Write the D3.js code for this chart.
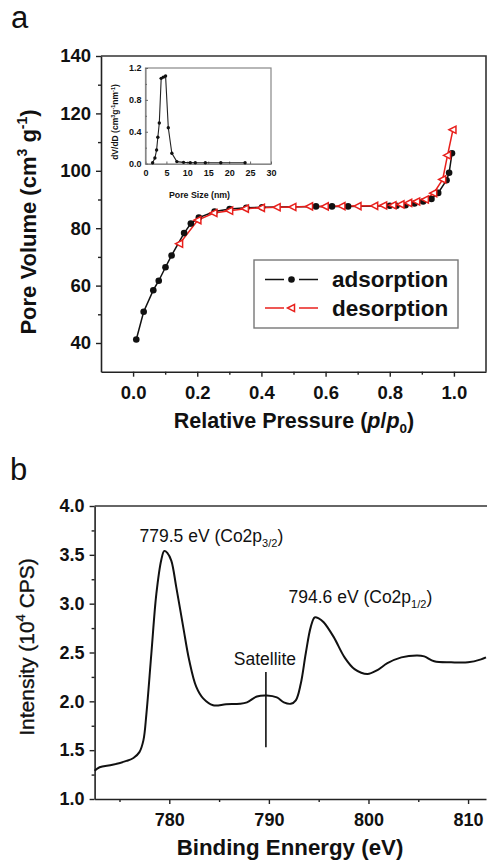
<!DOCTYPE html>
<html>
<head>
<meta charset="utf-8">
<script src="https://cdn.jsdelivr.net/npm/d3@7"></script>
<style>
  html, body { margin: 0; padding: 0; background: #fff; }
  svg { display: block; }
  text { font-family: "Liberation Sans", Arial, Helvetica, sans-serif; fill: #111; }
</style>
</head>
<body>
<svg id="fig" width="487" height="860"></svg>
<script>
// ---- Panel a: N2 adsorption / desorption isotherm ----
const adsP = [0.010, 0.033, 0.063, 0.080, 0.101, 0.120, 0.159, 0.180, 0.205, 0.254, 0.301, 0.353, 0.402,
              0.570, 0.620, 0.670, 0.800, 0.821, 0.849, 0.877, 0.904, 0.930, 0.951, 0.977, 0.985, 0.994];
const adsV = [41.2, 50.9, 58.4, 61.7, 66.4, 70.5, 78.3, 81.6, 83.7, 85.8, 86.7, 87.1, 87.3,
              87.6, 87.6, 87.6, 87.8, 87.8, 88.0, 88.6, 89.3, 90.2, 92.3, 96.7, 99.3, 106.1];
const desP = [0.997, 0.980, 0.965, 0.937, 0.911, 0.884, 0.859, 0.835, 0.810, 0.781, 0.753, 0.701,
              0.651, 0.599, 0.550, 0.498, 0.449, 0.400, 0.350, 0.301, 0.252, 0.202, 0.145];
const desV = [114.3, 105.4, 97.0, 92.2, 90.0, 89.3, 88.8, 88.3, 88.0, 87.9, 87.8, 87.7,
              87.7, 87.6, 87.6, 87.4, 87.3, 87.1, 86.8, 86.1, 85.3, 82.8, 74.6];
const isoXTicks = [0.0, 0.2, 0.4, 0.6, 0.8, 1.0];
const isoYTicks = [40, 60, 80, 100, 120, 140];

// inset: pore size distribution
const poreD = [1.7, 2.25, 2.65, 2.95, 3.3, 3.75, 4.25, 4.8, 5.45, 6.3, 7.5, 9.1, 10.7, 11.9, 14.3, 18.0, 23.8];
const poreV = [0.01, 0.07, 0.17, 0.33, 0.51, 1.07, 1.085, 1.10, 0.45, 0.13, 0.025, 0.016, 0.012, 0.01, 0.01, 0.01, 0.01];
const insetXTicks = [0, 5, 10, 15, 20, 25, 30];
const insetYTicks = [0.0, 0.4, 0.8, 1.2];

// ---- Panel b: Co 2p XPS spectrum ----
const bindE = [772.5, 773.0, 774.3, 775.7, 776.4, 777.0, 777.4, 777.7, 778.2, 778.7, 779.2, 779.5, 779.8,
               780.2, 780.7, 781.4, 782.0, 782.7, 783.4, 784.4, 785.7, 787.1, 787.8, 788.8, 789.8, 790.8,
               791.5, 792.2, 792.7, 793.2, 793.7, 794.2, 794.6, 795.0, 795.5, 796.5, 797.6, 798.6, 799.9,
               800.9, 801.9, 803.3, 804.9, 805.6, 806.6, 808.3, 810.0, 811.3, 811.8];
const intensity = [1.29, 1.325, 1.35, 1.39, 1.42, 1.48, 1.60, 1.87, 2.49, 3.10, 3.45, 3.54, 3.52,
                   3.44, 3.17, 2.76, 2.42, 2.15, 2.03, 1.96, 1.97, 1.975, 1.99, 2.05, 2.06, 2.04,
                   1.99, 1.975, 2.01, 2.18, 2.49, 2.76, 2.86, 2.85, 2.81, 2.66, 2.45, 2.33, 2.28,
                   2.32, 2.39, 2.45, 2.47, 2.46, 2.41, 2.40, 2.40, 2.43, 2.45];
const xpsXTicks = [780, 790, 800, 810];
const xpsYTicks = [1.0, 1.5, 2.0, 2.5, 3.0, 3.5, 4.0];
const peaks = [
  { e: 779.5, i: 3.54, label: "779.5 eV (Co2p", sub: "3/2" },
  { e: 794.6, i: 2.86, label: "794.6 eV (Co2p", sub: "1/2" }
];
const satellite = { e: 789.7, top: 2.30, bottom: 1.53 };

const svg = d3.select("#fig");

// ===================== panel a =====================
const xA = d3.scaleLinear().domain([-0.1, 1.1]).range([101, 486]);
const yA = d3.scaleLinear().domain([30, 140]).range([371.7, 56]);

svg.append("text").attr("x", 11).attr("y", 28).attr("font-size", 31).text("a");

const gA = svg.append("g");
// frame (top and right edges)
gA.append("path")
  .attr("d", `M${xA.range()[0]},${yA(140)}H${xA.range()[1]}V${yA(30)}`)
  .attr("fill", "none").attr("stroke", "#333").attr("stroke-width", 1.6);

const axA_x = gA.append("g").attr("transform", `translate(0,${yA(30)})`)
  .call(d3.axisBottom(xA).tickValues(isoXTicks).tickFormat(d3.format(".1f")).tickSizeInner(5).tickSizeOuter(0));
gA.append("g").attr("transform", `translate(0,${yA(30)})`)
  .call(d3.axisBottom(xA).tickValues([0.1, 0.3, 0.5, 0.7, 0.9]).tickFormat("").tickSizeInner(3).tickSizeOuter(0))
  .call(g => g.select(".domain").remove());
const axA_y = gA.append("g").attr("transform", `translate(${xA.range()[0]},0)`)
  .call(d3.axisLeft(yA).tickValues(isoYTicks).tickFormat(d3.format("d")).tickSizeInner(5).tickSizeOuter(0));
gA.append("g").attr("transform", `translate(${xA.range()[0]},0)`)
  .call(d3.axisLeft(yA).tickValues([50, 70, 90, 110, 130]).tickFormat("").tickSizeInner(3).tickSizeOuter(0))
  .call(g => g.select(".domain").remove());

[axA_x, axA_y].forEach(a => {
  a.select(".domain").attr("stroke", "#222").attr("stroke-width", 1.6);
  a.selectAll(".tick text").attr("font-size", 18.5).attr("font-weight", "bold").attr("fill", "#111")
   .attr("font-family", "'Liberation Sans', Arial, sans-serif");
});
axA_x.selectAll(".tick text").attr("dy", "1.05em");
axA_y.selectAll(".tick text").attr("x", -10);
gA.selectAll(".tick line").attr("stroke", "#222").attr("stroke-width", 1.4);

// axis titles
const xtA = svg.append("text").attr("x", 294).attr("y", 428).attr("text-anchor", "middle")
  .attr("font-size", 21.5).attr("font-weight", "bold");
xtA.append("tspan").text("Relative Pressure (");
xtA.append("tspan").attr("font-style", "italic").text("p");
xtA.append("tspan").text("/");
xtA.append("tspan").attr("font-style", "italic").text("p");
xtA.append("tspan").attr("font-size", 13.5).attr("dy", 5).text("0");
xtA.append("tspan").attr("dy", -5).text(")");

const ytA = svg.append("text").attr("transform", "translate(36,222) rotate(-90)").attr("text-anchor", "middle")
  .attr("font-size", 22).attr("font-weight", "bold");
ytA.append("tspan").text("Pore Volume (cm");
ytA.append("tspan").attr("font-size", 14).attr("dy", -9).text("3");
ytA.append("tspan").attr("dy", 9).text(" g");
ytA.append("tspan").attr("font-size", 14).attr("dy", -9).text("-1");
ytA.append("tspan").attr("dy", 9).text(")");

// isotherm lines and markers
const lineA = d3.line().x(d => xA(d[0])).y(d => yA(d[1]));
const ads = adsP.map((p, i) => [p, adsV[i]]);
const des = desP.map((p, i) => [p, desV[i]]);

gA.append("path").datum(ads).attr("d", lineA).attr("fill", "none").attr("stroke", "#111").attr("stroke-width", 1.5);
gA.append("path").datum(des).attr("d", lineA).attr("fill", "none").attr("stroke", "#e8201c").attr("stroke-width", 1.5);

gA.append("g").selectAll("circle").data(ads).join("circle")
  .attr("cx", d => xA(d[0])).attr("cy", d => yA(d[1])).attr("r", 3.3).attr("fill", "#111");

const tri = "M-4,0L3,-3.6L3,3.6Z";
gA.append("g").selectAll("path").data(des).join("path")
  .attr("transform", d => `translate(${xA(d[0])},${yA(d[1])})`)
  .attr("d", tri).attr("fill", "#fff").attr("stroke", "#e8201c").attr("stroke-width", 1.5);

// legend
const lg = gA.append("g");
lg.append("rect").attr("x", 254).attr("y", 260).attr("width", 204).attr("height", 68)
  .attr("fill", "#fff").attr("stroke", "#777").attr("stroke-width", 1.4);
const legendItems = [
  { name: "adsorption", color: "#111", y: 279.5, marker: "circle" },
  { name: "desorption", color: "#e8201c", y: 308, marker: "tri" }
];
legendItems.forEach(it => {
  // line segments on either side of the marker
  lg.append("line").attr("x1", 265).attr("x2", 284).attr("y1", it.y).attr("y2", it.y)
    .attr("stroke", it.color).attr("stroke-width", 1.5);
  lg.append("line").attr("x1", 299).attr("x2", 318).attr("y1", it.y).attr("y2", it.y)
    .attr("stroke", it.color).attr("stroke-width", 1.5);
  if (it.marker === "circle") {
    lg.append("circle").attr("cx", 291.5).attr("cy", it.y).attr("r", 3.3).attr("fill", it.color);
  } else {
    lg.append("path").attr("transform", `translate(291.5,${it.y})`).attr("d", tri)
      .attr("fill", "#fff").attr("stroke", it.color).attr("stroke-width", 1.5);
  }
  lg.append("text").attr("x", 332).attr("y", it.y + 7.5).attr("font-size", 22.5).attr("font-weight", "bold")
    .text(it.name);
});

// inset
const xI = d3.scaleLinear().domain([0, 30]).range([145.5, 271]);
const yI = d3.scaleLinear().domain([-0.005, 1.2]).range([164, 68]);
const gI = svg.append("g");
gI.append("rect").attr("x", xI(0)).attr("y", yI(1.2)).attr("width", xI(30) - xI(0)).attr("height", yI(-0.005) - yI(1.2))
  .attr("fill", "#fff").attr("stroke", "#888").attr("stroke-width", 1.2);
const axI_x = gI.append("g").attr("transform", `translate(0,${yI(-0.005)})`)
  .call(d3.axisBottom(xI).tickValues(insetXTicks).tickFormat(d3.format("d")).tickSizeInner(-2.5).tickSizeOuter(0));
const axI_y = gI.append("g").attr("transform", `translate(${xI(0)},0)`)
  .call(d3.axisLeft(yI).tickValues(insetYTicks).tickFormat(d3.format(".1f")).tickSizeInner(-2.5).tickSizeOuter(0));
gI.append("g").attr("transform", `translate(${xI(0)},0)`)
  .call(d3.axisLeft(yI).tickValues([0.2, 0.6, 1.0]).tickFormat("").tickSizeInner(-1.5).tickSizeOuter(0))
  .call(g => g.select(".domain").remove());
[axI_x, axI_y].forEach(a => {
  a.select(".domain").attr("stroke", "#888").attr("stroke-width", 1.2);
  a.selectAll(".tick text").attr("font-size", 9).attr("font-weight", "bold").attr("fill", "#222")
   .attr("font-family", "'Liberation Sans', Arial, sans-serif");
});
gI.selectAll(".tick line").attr("stroke", "#666");
axI_x.selectAll(".tick text").attr("y", 6);
axI_y.selectAll(".tick text").attr("x", -4);

const pore = poreD.map((d, i) => [d, poreV[i]]);
gI.append("path").datum(pore).attr("d", d3.line().x(d => xI(d[0])).y(d => yI(d[1])))
  .attr("fill", "none").attr("stroke", "#222").attr("stroke-width", 1.1);
gI.append("g").selectAll("circle").data(pore).join("circle")
  .attr("cx", d => xI(d[0])).attr("cy", d => yI(d[1])).attr("r", 1.7).attr("fill", "#111");

svg.append("text").attr("x", 199.5).attr("y", 197.5).attr("text-anchor", "middle")
  .attr("font-size", 8.8).attr("font-weight", "bold").text("Pore Size (nm)");
const ytI = svg.append("text").attr("transform", "translate(118,122) rotate(-90)").attr("text-anchor", "middle")
  .attr("font-size", 8.5).attr("font-weight", "bold");
ytI.append("tspan").text("dV/dD (cm");
ytI.append("tspan").attr("font-size", 5.5).attr("dy", -3).text("3");
ytI.append("tspan").attr("dy", 3).text("g");
ytI.append("tspan").attr("font-size", 5.5).attr("dy", -3).text("-1");
ytI.append("tspan").attr("dy", 3).text("nm");
ytI.append("tspan").attr("font-size", 5.5).attr("dy", -3).text("-1");
ytI.append("tspan").attr("dy", 3).text(")");

// ===================== panel b =====================
const xB = d3.scaleLinear().domain([772.5, 811.8]).range([94.6, 486]);
const yB = d3.scaleLinear().domain([1.0, 4.0]).range([799, 506]);

svg.append("text").attr("x", 10).attr("y", 480).attr("font-size", 31).text("b");

const gB = svg.append("g");
gB.append("line").attr("x1", xB.range()[0]).attr("x2", 487).attr("y1", yB(4)).attr("y2", yB(4))
  .attr("stroke", "#333").attr("stroke-width", 1.6);

const axB_x = gB.append("g").attr("transform", `translate(0,${yB(1)})`)
  .call(d3.axisBottom(xB).tickValues(xpsXTicks).tickFormat(d3.format("d")).tickSizeInner(5).tickSizeOuter(0));
gB.append("g").attr("transform", `translate(0,${yB(1)})`)
  .call(d3.axisBottom(xB).tickValues([775, 785, 795, 805]).tickFormat("").tickSizeInner(3).tickSizeOuter(0))
  .call(g => g.select(".domain").remove());
const axB_y = gB.append("g").attr("transform", `translate(${xB.range()[0]},0)`)
  .call(d3.axisLeft(yB).tickValues(xpsYTicks).tickFormat(d3.format(".1f")).tickSizeInner(5).tickSizeOuter(0));
gB.append("g").attr("transform", `translate(${xB.range()[0]},0)`)
  .call(d3.axisLeft(yB).tickValues([1.25, 1.75, 2.25, 2.75, 3.25, 3.75]).tickFormat("").tickSizeInner(3).tickSizeOuter(0))
  .call(g => g.select(".domain").remove());
[axB_x, axB_y].forEach(a => {
  a.select(".domain").attr("stroke", "#222").attr("stroke-width", 1.6);
  a.selectAll(".tick text").attr("font-size", 18).attr("font-weight", "bold").attr("fill", "#111")
   .attr("font-family", "'Liberation Sans', Arial, sans-serif");
});
gB.selectAll(".tick line").attr("stroke", "#222").attr("stroke-width", 1.4);
axB_x.selectAll(".tick text").attr("dy", "1.05em");
axB_y.selectAll(".tick text").attr("x", -10);

svg.append("text").attr("x", 290).attr("y", 855).attr("text-anchor", "middle")
  .attr("font-size", 22.3).attr("font-weight", "bold").text("Binding Ennergy (eV)");
const ytB = svg.append("text").attr("transform", "translate(34,647) rotate(-90)").attr("text-anchor", "middle")
  .attr("font-size", 21).attr("stroke", "#111").attr("stroke-width", 0.35);
ytB.append("tspan").text("Intensity (10");
ytB.append("tspan").attr("font-size", 13).attr("dy", -9).text("4");
ytB.append("tspan").attr("dy", 9).text(" CPS)");

const spec = bindE.map((e, i) => [e, intensity[i]]);
gB.append("path").datum(spec)
  .attr("d", d3.line().x(d => xB(d[0])).y(d => yB(d[1])).curve(d3.curveCatmullRom.alpha(0.5)))
  .attr("fill", "none").attr("stroke", "#111").attr("stroke-width", 2);

// peak annotations
const peakLabelPos = [{ x: 139.5, y: 541.5 }, { x: 288.5, y: 603 }];
peaks.forEach((p, k) => {
  const t = svg.append("text").attr("text-anchor", "start").attr("font-size", 17.5)
    .attr("x", peakLabelPos[k].x).attr("y", peakLabelPos[k].y);
  t.append("tspan").text(p.label);
  t.append("tspan").attr("font-size", 11).attr("dy", 5).text(p.sub);
  t.append("tspan").attr("dy", -5).text(")");
});

gB.append("line").attr("x1", xB(satellite.e)).attr("x2", xB(satellite.e))
  .attr("y1", yB(satellite.top)).attr("y2", yB(satellite.bottom))
  .attr("stroke", "#111").attr("stroke-width", 1.6);
svg.append("text").attr("x", xB(satellite.e) - 1).attr("y", 665).attr("text-anchor", "middle")
  .attr("font-size", 17.5).text("Satellite");
</script>
</body>
</html>
